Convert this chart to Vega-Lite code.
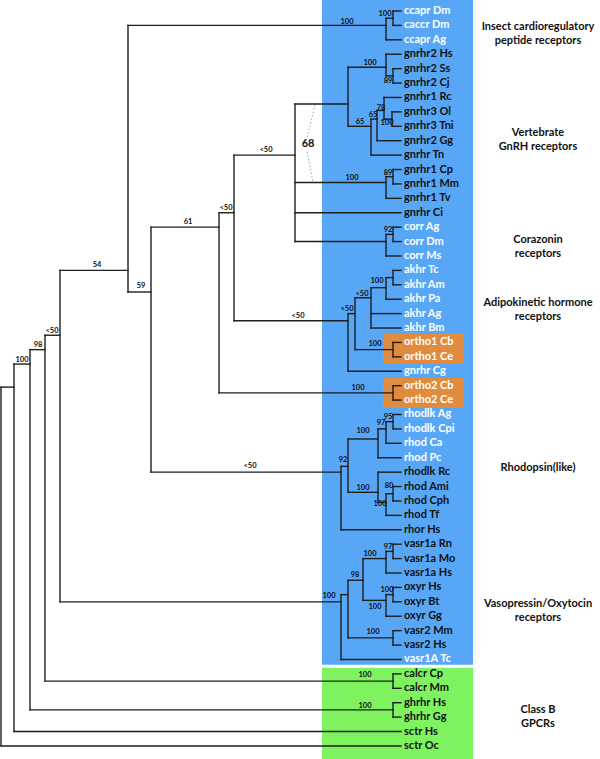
{
"$schema": "https://vega.github.io/schema/vega-lite/v6.json",
"width": 600, "height": 759,
"autosize": {"type": "fit", "contains": "padding"},
"padding": 0,
"background": "white",
"config": {"view": {"stroke": null}},
"resolve": {"scale": {"color": "independent"}},
"datasets": {
"boxes": [
{"x": 322, "x2": 473, "y": 0.2366, "y2": 46.37, "kind": "main"},
{"x": 322, "x2": 473, "y": 46.58, "y2": 52.907, "kind": "classB"},
{"x": 383, "x2": 464, "y": 23.41, "y2": 25.43, "kind": "ortho"},
{"x": 383, "x2": 464, "y": 26.47, "y2": 28.55, "kind": "ortho"}
],
"h": [
{"x":1,"x2":14,"y":27.1},{"x":1,"x2":401,"y":52},
{"x":14,"x2":30,"y":25.5},{"x":14,"x2":401,"y":51},
{"x":30,"x2":45,"y":24.5},{"x":30,"x2":393,"y":49.5},
{"x":45,"x2":60,"y":23.5},{"x":45,"x2":393,"y":47.5},
{"x":60,"x2":128,"y":19},{"x":60,"x2":341,"y":42},
{"x":128,"x2":386,"y":2},{"x":128,"x2":151,"y":20.5},
{"x":386,"x2":393,"y":1.5},{"x":386,"x2":401,"y":3},
{"x":393,"x2":401,"y":1},{"x":393,"x2":401,"y":2},
{"x":151,"x2":219,"y":16},{"x":151,"x2":341,"y":33},
{"x":219,"x2":234,"y":15},{"x":219,"x2":393,"y":27.5},
{"x":234,"x2":295,"y":11},{"x":234,"x2":348,"y":22.5},
{"x":295,"x2":348,"y":7.45},{"x":295,"x2":386,"y":12.9},{"x":295,"x2":401,"y":15},{"x":295,"x2":386,"y":17},
{"x":348,"x2":386,"y":4.9},{"x":348,"x2":371,"y":9},
{"x":386,"x2":401,"y":4},{"x":386,"x2":393,"y":5.5},
{"x":393,"x2":401,"y":5},{"x":393,"x2":401,"y":6},
{"x":371,"x2":377,"y":8.5},{"x":371,"x2":401,"y":11},
{"x":377,"x2":384,"y":7.9},{"x":377,"x2":401,"y":10},
{"x":384,"x2":401,"y":7},{"x":384,"x2":392,"y":8.5},
{"x":392,"x2":401,"y":8},{"x":392,"x2":401,"y":9},
{"x":386,"x2":393,"y":12.5},{"x":386,"x2":401,"y":14},
{"x":393,"x2":401,"y":12},{"x":393,"x2":401,"y":13},
{"x":386,"x2":393,"y":16.5},{"x":386,"x2":401,"y":18},
{"x":393,"x2":401,"y":16},{"x":393,"x2":401,"y":17},
{"x":348,"x2":355,"y":22},{"x":348,"x2":401,"y":26},
{"x":355,"x2":371,"y":20.9},{"x":355,"x2":393,"y":24.5},
{"x":371,"x2":386,"y":20.2},{"x":371,"x2":401,"y":22},{"x":371,"x2":401,"y":23},
{"x":386,"x2":393,"y":19.5},{"x":386,"x2":401,"y":21},
{"x":393,"x2":401,"y":19},{"x":393,"x2":401,"y":20},
{"x":393,"x2":401,"y":24},{"x":393,"x2":401,"y":25},
{"x":393,"x2":401,"y":27},{"x":393,"x2":401,"y":28},
{"x":341,"x2":348,"y":32.6},{"x":341,"x2":401,"y":37},
{"x":348,"x2":378,"y":30.7},{"x":348,"x2":378,"y":34.4},
{"x":378,"x2":386,"y":30},{"x":378,"x2":401,"y":32},
{"x":386,"x2":393,"y":29.5},{"x":386,"x2":401,"y":31},
{"x":393,"x2":401,"y":29},{"x":393,"x2":401,"y":30},
{"x":378,"x2":401,"y":33},{"x":378,"x2":386,"y":35.1},
{"x":386,"x2":393,"y":34.5},{"x":386,"x2":401,"y":36},
{"x":393,"x2":401,"y":34},{"x":393,"x2":401,"y":35},
{"x":341,"x2":348,"y":41.5},{"x":341,"x2":401,"y":46},
{"x":348,"x2":363,"y":40.5},{"x":348,"x2":393,"y":44.5},
{"x":363,"x2":386,"y":39},{"x":363,"x2":386,"y":41.9},
{"x":386,"x2":393,"y":38.5},{"x":386,"x2":401,"y":40},
{"x":393,"x2":401,"y":38},{"x":393,"x2":401,"y":39},
{"x":386,"x2":393,"y":41.5},{"x":386,"x2":401,"y":43},
{"x":393,"x2":401,"y":41},{"x":393,"x2":401,"y":42},
{"x":393,"x2":401,"y":44},{"x":393,"x2":401,"y":45},
{"x":393,"x2":401,"y":47},{"x":393,"x2":401,"y":48},
{"x":393,"x2":401,"y":49},{"x":393,"x2":401,"y":50}
],
"v": [
{"x":1,"y":27.1,"y2":52},{"x":14,"y":25.5,"y2":51},{"x":30,"y":24.5,"y2":49.5},{"x":45,"y":23.5,"y2":47.5},
{"x":60,"y":19,"y2":42},{"x":128,"y":2,"y2":20.5},{"x":386,"y":1.5,"y2":3},{"x":393,"y":1,"y2":2},
{"x":151,"y":16,"y2":33},{"x":219,"y":15,"y2":27.5},{"x":234,"y":11,"y2":22.5},{"x":295,"y":7.45,"y2":17},
{"x":348,"y":4.9,"y2":9},{"x":386,"y":4,"y2":5.5},{"x":393,"y":5,"y2":6},{"x":371,"y":8.5,"y2":11},
{"x":377,"y":7.9,"y2":10},{"x":384,"y":7,"y2":8.5},{"x":392,"y":8,"y2":9},{"x":386,"y":12.5,"y2":14},
{"x":393,"y":12,"y2":13},{"x":386,"y":16.5,"y2":18},{"x":393,"y":16,"y2":17},{"x":348,"y":22,"y2":26},
{"x":355,"y":20.9,"y2":24.5},{"x":371,"y":20.2,"y2":23},{"x":386,"y":19.5,"y2":21},{"x":393,"y":19,"y2":20},
{"x":393,"y":24,"y2":25},{"x":393,"y":27,"y2":28},{"x":341,"y":32.6,"y2":37},{"x":348,"y":30.7,"y2":34.4},
{"x":378,"y":30,"y2":32},{"x":386,"y":29.5,"y2":31},{"x":393,"y":29,"y2":30},{"x":378,"y":33,"y2":35.1},
{"x":386,"y":34.5,"y2":36},{"x":393,"y":34,"y2":35},{"x":341,"y":41.5,"y2":46},{"x":348,"y":40.5,"y2":44.5},
{"x":363,"y":39,"y2":41.9},{"x":386,"y":38.5,"y2":40},{"x":393,"y":38,"y2":39},{"x":386,"y":41.5,"y2":43},
{"x":393,"y":41,"y2":42},{"x":393,"y":44,"y2":45},{"x":393,"y":47,"y2":48},{"x":393,"y":49,"y2":50}
],
"dots": [
{"x":315,"x2":307,"y":7.52,"y2":9.81},
{"x":307,"x2":313,"y":10.78,"y2":12.87}
],
"leaves": [
{"i":1,"name":"ccapr Dm","hl":"yes"},{"i":2,"name":"caccr Dm","hl":"yes"},{"i":3,"name":"ccapr Ag","hl":"yes"},
{"i":4,"name":"gnrhr2 Hs","hl":"no"},{"i":5,"name":"gnrhr2 Ss","hl":"no"},{"i":6,"name":"gnrhr2 Cj","hl":"no"},
{"i":7,"name":"gnrhr1 Rc","hl":"no"},{"i":8,"name":"gnrhr3 Ol","hl":"no"},{"i":9,"name":"gnrhr3 Tni","hl":"no"},
{"i":10,"name":"gnrhr2 Gg","hl":"no"},{"i":11,"name":"gnrhr Tn","hl":"no"},{"i":12,"name":"gnrhr1 Cp","hl":"no"},
{"i":13,"name":"gnrhr1 Mm","hl":"no"},{"i":14,"name":"gnrhr1 Tv","hl":"no"},{"i":15,"name":"gnrhr Ci","hl":"no"},
{"i":16,"name":"corr Ag","hl":"yes"},{"i":17,"name":"corr Dm","hl":"yes"},{"i":18,"name":"corr Ms","hl":"yes"},
{"i":19,"name":"akhr Tc","hl":"yes"},{"i":20,"name":"akhr Am","hl":"yes"},{"i":21,"name":"akhr Pa","hl":"yes"},
{"i":22,"name":"akhr Ag","hl":"yes"},{"i":23,"name":"akhr Bm","hl":"yes"},{"i":24,"name":"ortho1 Cb","hl":"yes"},
{"i":25,"name":"ortho1 Ce","hl":"yes"},{"i":26,"name":"gnrhr Cg","hl":"yes"},{"i":27,"name":"ortho2 Cb","hl":"yes"},
{"i":28,"name":"ortho2 Ce","hl":"yes"},{"i":29,"name":"rhodlk Ag","hl":"yes"},{"i":30,"name":"rhodlk Cpi","hl":"yes"},
{"i":31,"name":"rhod Ca","hl":"yes"},{"i":32,"name":"rhod Pc","hl":"yes"},{"i":33,"name":"rhodlk Rc","hl":"no"},
{"i":34,"name":"rhod Ami","hl":"no"},{"i":35,"name":"rhod Cph","hl":"no"},{"i":36,"name":"rhod Tf","hl":"no"},
{"i":37,"name":"rhor Hs","hl":"no"},{"i":38,"name":"vasr1a Rn","hl":"no"},{"i":39,"name":"vasr1a Mo","hl":"no"},
{"i":40,"name":"vasr1a Hs","hl":"no"},{"i":41,"name":"oxyr Hs","hl":"no"},{"i":42,"name":"oxyr Bt","hl":"no"},
{"i":43,"name":"oxyr Gg","hl":"no"},{"i":44,"name":"vasr2 Mm","hl":"no"},{"i":45,"name":"vasr2 Hs","hl":"no"},
{"i":46,"name":"vasr1A Tc","hl":"yes"},{"i":47,"name":"calcr Cp","hl":"no"},{"i":48,"name":"calcr Mm","hl":"no"},
{"i":49,"name":"ghrhr Hs","hl":"no"},{"i":50,"name":"ghrhr Gg","hl":"no"},{"i":51,"name":"sctr Hs","hl":"no"},
{"i":52,"name":"sctr Oc","hl":"no"}
],
"support": [
{"x":385,"y":1.21,"t":"100"},{"x":347,"y":1.76,"t":"100"},{"x":370,"y":4.61,"t":"100"},{"x":388,"y":5.86,"t":"89"},
{"x":381,"y":7.73,"t":"78"},{"x":373,"y":8.22,"t":"65"},{"x":360,"y":8.7,"t":"65"},{"x":387,"y":8.77,"t":"100"},
{"x":352,"y":12.59,"t":"100"},{"x":388,"y":12.24,"t":"89"},{"x":388,"y":16.2,"t":"92"},{"x":266,"y":10.65,"t":"<50"},
{"x":226,"y":14.67,"t":"<50"},{"x":188,"y":15.64,"t":"61"},{"x":97,"y":18.63,"t":"54"},{"x":141,"y":20.08,"t":"59"},
{"x":298,"y":22.17,"t":"<50"},{"x":347,"y":21.68,"t":"<50"},{"x":362,"y":20.64,"t":"<50"},{"x":377,"y":19.74,"t":"100"},
{"x":375,"y":24.11,"t":"100"},{"x":358,"y":27.16,"t":"100"},{"x":250,"y":32.58,"t":"<50"},{"x":343,"y":32.16,"t":"92"},
{"x":363,"y":30.15,"t":"100"},{"x":381,"y":29.59,"t":"97"},{"x":388,"y":29.18,"t":"95"},{"x":363,"y":34.1,"t":"100"},
{"x":389,"y":33.96,"t":"80"},{"x":380,"y":35.21,"t":"100"},{"x":388,"y":38.2,"t":"97"},{"x":370,"y":38.69,"t":"100"},
{"x":355,"y":40.15,"t":"98"},{"x":387,"y":41.18,"t":"100"},{"x":375,"y":42.36,"t":"100"},{"x":329,"y":41.6,"t":"100"},
{"x":373,"y":44.09,"t":"100"},{"x":365,"y":47.08,"t":"100"},{"x":365,"y":49.23,"t":"100"},{"x":52,"y":23.21,"t":"<50"},
{"x":38,"y":24.18,"t":"98"},{"x":22,"y":25.22,"t":"100"}
],
"big": [{"x":308,"y":10.23,"t":"68"}],
"groups": [
{"y":2.11,"t":"Insect cardioregulatory\npeptide receptors"},
{"y":9.47,"t":"Vertebrate\nGnRH receptors"},
{"y":16.89,"t":"Corazonin\nreceptors"},
{"y":21.23,"t":"Adipokinetic hormone\nreceptors"},
{"y":32.71,"t":"Rhodopsin(like)"},
{"y":42.12,"t":"Vasopressin/Oxytocin\nreceptors"},
{"y":49.51,"t":"Class B\nGPCRs"}
]
},
"layer": [
{"data": {"name": "boxes"}, "mark": {"type": "rect"},
 "encoding": {
  "x": {"field": "x", "type": "quantitative", "scale": {"domain": [0, 600], "nice": false, "zero": false}, "axis": null},
  "x2": {"field": "x2"},
  "y": {"field": "y", "type": "quantitative", "scale": {"domain": [0.2366, 52.907], "nice": false, "zero": false, "reverse": true}, "axis": null},
  "y2": {"field": "y2"},
  "color": {"field": "kind", "type": "nominal", "scale": {"domain": ["main", "classB", "ortho"], "range": ["#58a7f7", "#7ff25f", "#e08b3e"]}, "legend": null}
 }},
{"data": {"name": "h"}, "mark": {"type": "rule", "color": "#1e1e1e", "strokeWidth": 1.4, "strokeCap": "square"},
 "encoding": {
  "x": {"field": "x", "type": "quantitative", "scale": {"domain": [0, 600], "nice": false, "zero": false}, "axis": null},
  "x2": {"field": "x2"},
  "y": {"field": "y", "type": "quantitative", "scale": {"domain": [0.2366, 52.907], "nice": false, "zero": false, "reverse": true}, "axis": null}
 }},
{"data": {"name": "v"}, "mark": {"type": "rule", "color": "#1e1e1e", "strokeWidth": 1.4, "strokeCap": "square"},
 "encoding": {
  "x": {"field": "x", "type": "quantitative", "scale": {"domain": [0, 600], "nice": false, "zero": false}, "axis": null},
  "y": {"field": "y", "type": "quantitative", "scale": {"domain": [0.2366, 52.907], "nice": false, "zero": false, "reverse": true}, "axis": null},
  "y2": {"field": "y2"}
 }},
{"data": {"name": "dots"}, "mark": {"type": "rule", "color": "#8a8a8a", "strokeWidth": 0.8, "strokeDash": [1.5, 2]},
 "encoding": {
  "x": {"field": "x", "type": "quantitative", "scale": {"domain": [0, 600], "nice": false, "zero": false}, "axis": null},
  "x2": {"field": "x2"},
  "y": {"field": "y", "type": "quantitative", "scale": {"domain": [0.2366, 52.907], "nice": false, "zero": false, "reverse": true}, "axis": null},
  "y2": {"field": "y2"}
 }},
{"data": {"name": "leaves"}, "mark": {"type": "text", "align": "left", "baseline": "middle", "dx": 3, "font": "Lato", "fontWeight": "bold", "fontSize": 11},
 "encoding": {
  "x": {"datum": 401, "type": "quantitative", "scale": {"domain": [0, 600], "nice": false, "zero": false}, "axis": null},
  "y": {"field": "i", "type": "quantitative", "scale": {"domain": [0.2366, 52.907], "nice": false, "zero": false, "reverse": true}, "axis": null},
  "text": {"field": "name"},
  "color": {"field": "hl", "type": "nominal", "scale": {"domain": ["yes", "no"], "range": ["#ffffff", "#111111"]}, "legend": null}
 }},
{"data": {"name": "support"}, "mark": {"type": "text", "align": "center", "baseline": "middle", "font": "Lato", "fontWeight": "bold", "fontSize": 7.5, "color": "#111111"},
 "encoding": {
  "x": {"field": "x", "type": "quantitative", "scale": {"domain": [0, 600], "nice": false, "zero": false}, "axis": null},
  "y": {"field": "y", "type": "quantitative", "scale": {"domain": [0.2366, 52.907], "nice": false, "zero": false, "reverse": true}, "axis": null},
  "text": {"field": "t"}
 }},
{"data": {"name": "big"}, "mark": {"type": "text", "align": "center", "baseline": "middle", "font": "Lato", "fontWeight": "bold", "fontSize": 11, "color": "#111111"},
 "encoding": {
  "x": {"field": "x", "type": "quantitative", "scale": {"domain": [0, 600], "nice": false, "zero": false}, "axis": null},
  "y": {"field": "y", "type": "quantitative", "scale": {"domain": [0.2366, 52.907], "nice": false, "zero": false, "reverse": true}, "axis": null},
  "text": {"field": "t"}
 }},
{"data": {"name": "groups"}, "mark": {"type": "text", "align": "center", "baseline": "middle", "font": "Lato", "fontWeight": "bold", "fontSize": 11, "lineBreak": "\n", "lineHeight": 14, "color": "#111111"},
 "encoding": {
  "x": {"datum": 538, "type": "quantitative", "scale": {"domain": [0, 600], "nice": false, "zero": false}, "axis": null},
  "y": {"field": "y", "type": "quantitative", "scale": {"domain": [0.2366, 52.907], "nice": false, "zero": false, "reverse": true}, "axis": null},
  "text": {"field": "t"}
 }}
]
}
